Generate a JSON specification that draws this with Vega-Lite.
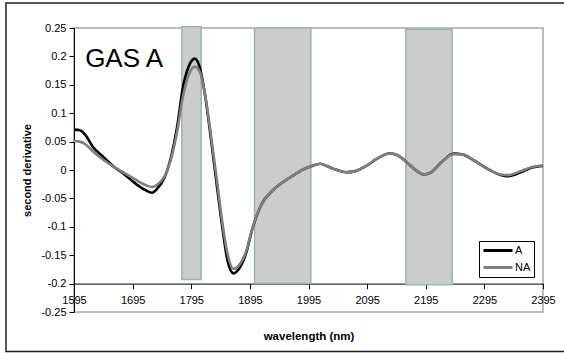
{
  "$schema": "https://vega.github.io/schema/vega-lite/v6.json",
  "width": 469,
  "height": 284,
  "autosize": {"type": "none"},
  "padding": {"left": 74, "top": 28, "right": 21, "bottom": 41},
  "background": "white",
  "config": {
    "view": {"stroke": "#a8a8a8", "strokeWidth": 1.5},
    "font": "Liberation Sans",
    "axis": {
      "grid": false,
      "domainColor": "#000000", "domainWidth": 1,
      "tickColor": "#000000", "tickSize": 5,
      "labelFont": "Liberation Sans", "labelFontSize": 11, "labelColor": "#000000",
      "labelOverlap": false, "labelFlush": false,
      "titleFont": "Liberation Sans", "titleFontWeight": "bold", "titleColor": "#000000"
    },
    "axisX": {"labelPadding": 6, "titlePadding": 25, "titleFontSize": 11.5},
    "axisY": {"labelPadding": 3, "titlePadding": 8, "titleFontSize": 11}
  },
  "datasets": {
    "bands": [
      {"start": 1779, "end": 1812, "top": 0.252, "bottom": -0.193},
      {"start": 1903, "end": 1999, "top": 0.25, "bottom": -0.2},
      {"start": 2161, "end": 2240, "top": 0.248, "bottom": -0.202}
    ],
    "spectra": [
      {"w": 1595, "v": 0.071, "s": "A"}, {"w": 1605, "v": 0.070, "s": "A"}, {"w": 1615, "v": 0.061, "s": "A"},
      {"w": 1627, "v": 0.041, "s": "A"}, {"w": 1645, "v": 0.023, "s": "A"}, {"w": 1664, "v": 0.005, "s": "A"},
      {"w": 1679, "v": -0.006, "s": "A"}, {"w": 1700, "v": -0.024, "s": "A"}, {"w": 1716, "v": -0.035, "s": "A"},
      {"w": 1728, "v": -0.040, "s": "A"}, {"w": 1737, "v": -0.033, "s": "A"}, {"w": 1750, "v": -0.012, "s": "A"},
      {"w": 1762, "v": 0.029, "s": "A"}, {"w": 1771, "v": 0.076, "s": "A"}, {"w": 1780, "v": 0.141, "s": "A"},
      {"w": 1791, "v": 0.183, "s": "A"}, {"w": 1801, "v": 0.196, "s": "A"}, {"w": 1810, "v": 0.179, "s": "A"},
      {"w": 1819, "v": 0.129, "s": "A"}, {"w": 1829, "v": 0.052, "s": "A"}, {"w": 1839, "v": -0.030, "s": "A"},
      {"w": 1848, "v": -0.101, "s": "A"}, {"w": 1857, "v": -0.160, "s": "A"}, {"w": 1867, "v": -0.182, "s": "A"},
      {"w": 1877, "v": -0.173, "s": "A"}, {"w": 1888, "v": -0.148, "s": "A"}, {"w": 1900, "v": -0.101, "s": "A"},
      {"w": 1915, "v": -0.060, "s": "A"}, {"w": 1934, "v": -0.036, "s": "A"}, {"w": 1952, "v": -0.021, "s": "A"},
      {"w": 1970, "v": -0.009, "s": "A"}, {"w": 1986, "v": 0.001, "s": "A"}, {"w": 2001, "v": 0.007, "s": "A"},
      {"w": 2015, "v": 0.011, "s": "A"}, {"w": 2026, "v": 0.007, "s": "A"}, {"w": 2041, "v": 0.001, "s": "A"},
      {"w": 2059, "v": -0.004, "s": "A"}, {"w": 2075, "v": -0.002, "s": "A"}, {"w": 2093, "v": 0.007, "s": "A"},
      {"w": 2112, "v": 0.020, "s": "A"}, {"w": 2133, "v": 0.029, "s": "A"}, {"w": 2145, "v": 0.027, "s": "A"},
      {"w": 2161, "v": 0.015, "s": "A"}, {"w": 2179, "v": -0.001, "s": "A"}, {"w": 2191, "v": -0.008, "s": "A"},
      {"w": 2204, "v": -0.004, "s": "A"}, {"w": 2222, "v": 0.014, "s": "A"}, {"w": 2243, "v": 0.029, "s": "A"},
      {"w": 2259, "v": 0.027, "s": "A"}, {"w": 2280, "v": 0.015, "s": "A"}, {"w": 2302, "v": 0.001, "s": "A"},
      {"w": 2323, "v": -0.009, "s": "A"}, {"w": 2335, "v": -0.011, "s": "A"}, {"w": 2357, "v": -0.004, "s": "A"},
      {"w": 2375, "v": 0.004, "s": "A"}, {"w": 2395, "v": 0.007, "s": "A"},
      {"w": 1595, "v": 0.051, "s": "NA"}, {"w": 1605, "v": 0.050, "s": "NA"}, {"w": 1615, "v": 0.045, "s": "NA"},
      {"w": 1627, "v": 0.033, "s": "NA"}, {"w": 1645, "v": 0.018, "s": "NA"}, {"w": 1664, "v": 0.005, "s": "NA"},
      {"w": 1679, "v": -0.004, "s": "NA"}, {"w": 1700, "v": -0.017, "s": "NA"}, {"w": 1716, "v": -0.026, "s": "NA"},
      {"w": 1728, "v": -0.030, "s": "NA"}, {"w": 1737, "v": -0.026, "s": "NA"}, {"w": 1750, "v": -0.010, "s": "NA"},
      {"w": 1762, "v": 0.025, "s": "NA"}, {"w": 1771, "v": 0.068, "s": "NA"}, {"w": 1780, "v": 0.125, "s": "NA"},
      {"w": 1791, "v": 0.168, "s": "NA"}, {"w": 1801, "v": 0.182, "s": "NA"}, {"w": 1810, "v": 0.172, "s": "NA"},
      {"w": 1819, "v": 0.130, "s": "NA"}, {"w": 1829, "v": 0.058, "s": "NA"}, {"w": 1839, "v": -0.020, "s": "NA"},
      {"w": 1848, "v": -0.092, "s": "NA"}, {"w": 1857, "v": -0.148, "s": "NA"}, {"w": 1867, "v": -0.174, "s": "NA"},
      {"w": 1877, "v": -0.167, "s": "NA"}, {"w": 1888, "v": -0.145, "s": "NA"}, {"w": 1900, "v": -0.100, "s": "NA"},
      {"w": 1915, "v": -0.060, "s": "NA"}, {"w": 1934, "v": -0.036, "s": "NA"}, {"w": 1952, "v": -0.021, "s": "NA"},
      {"w": 1970, "v": -0.009, "s": "NA"}, {"w": 1986, "v": 0.001, "s": "NA"}, {"w": 2001, "v": 0.007, "s": "NA"},
      {"w": 2015, "v": 0.011, "s": "NA"}, {"w": 2026, "v": 0.007, "s": "NA"}, {"w": 2041, "v": 0.001, "s": "NA"},
      {"w": 2059, "v": -0.004, "s": "NA"}, {"w": 2075, "v": -0.002, "s": "NA"}, {"w": 2093, "v": 0.007, "s": "NA"},
      {"w": 2112, "v": 0.020, "s": "NA"}, {"w": 2133, "v": 0.029, "s": "NA"}, {"w": 2145, "v": 0.027, "s": "NA"},
      {"w": 2161, "v": 0.015, "s": "NA"}, {"w": 2179, "v": -0.001, "s": "NA"}, {"w": 2191, "v": -0.008, "s": "NA"},
      {"w": 2204, "v": -0.004, "s": "NA"}, {"w": 2222, "v": 0.014, "s": "NA"}, {"w": 2243, "v": 0.028, "s": "NA"},
      {"w": 2259, "v": 0.027, "s": "NA"}, {"w": 2280, "v": 0.015, "s": "NA"}, {"w": 2302, "v": 0.001, "s": "NA"},
      {"w": 2323, "v": -0.008, "s": "NA"}, {"w": 2335, "v": -0.009, "s": "NA"}, {"w": 2357, "v": -0.002, "s": "NA"},
      {"w": 2375, "v": 0.005, "s": "NA"}, {"w": 2395, "v": 0.008, "s": "NA"}
    ]
  },
  "layer": [
    {
      "data": {"values": [{}]},
      "mark": {"type": "rect", "fill": null, "fillOpacity": 0, "stroke": "#222222", "strokeWidth": 1.5, "clip": false},
      "encoding": {
        "x": {"datum": 1479, "type": "quantitative", "scale": {"domain": [1595, 2395], "nice": false, "zero": false}},
        "x2": {"datum": 2436},
        "y": {"datum": 0.2938, "type": "quantitative", "scale": {"domain": [-0.25, 0.25], "nice": false, "zero": false}},
        "y2": {"datum": -0.3195}
      }
    },
    {
      "data": {"name": "bands"},
      "mark": {"type": "rect", "fill": "#cccccc", "stroke": "#9db3b3", "strokeWidth": 1.5},
      "encoding": {
        "x": {"field": "start", "type": "quantitative", "scale": {"domain": [1595, 2395], "nice": false, "zero": false}},
        "x2": {"field": "end"},
        "y": {"field": "top", "type": "quantitative", "scale": {"domain": [-0.25, 0.25], "nice": false, "zero": false}},
        "y2": {"field": "bottom"}
      }
    },
    {
      "data": {"name": "spectra"},
      "mark": {"type": "line", "strokeWidth": 2.6, "interpolate": "monotone"},
      "encoding": {
        "x": {
          "field": "w", "type": "quantitative",
          "scale": {"domain": [1595, 2395], "nice": false, "zero": false},
          "axis": {
            "title": "wavelength (nm)",
            "values": [1595, 1695, 1795, 1895, 1995, 2095, 2195, 2295, 2395],
            "format": "d",
            "offset": -28.4
          }
        },
        "y": {
          "field": "v", "type": "quantitative",
          "scale": {"domain": [-0.25, 0.25], "nice": false, "zero": false},
          "axis": {
            "title": "second derivative",
            "values": [-0.25, -0.2, -0.15, -0.1, -0.05, 0, 0.05, 0.1, 0.15, 0.2, 0.25],
            "format": ".2~f",
            "labelExpr": "replace(datum.label, '\u2212', '-')",
            "labelOverlap": false,
            "tickCount": 11
          }
        },
        "color": {
          "field": "s", "type": "nominal",
          "scale": {"domain": ["A", "NA"], "range": ["#000000", "#808080"]},
          "legend": {
            "title": null,
            "orient": "none",
            "legendX": 405,
            "legendY": 213,
            "strokeColor": "#000000",
            "fillColor": "#ffffff",
            "padding": 3,
            "symbolType": "stroke",
            "symbolSize": 841,
            "symbolStrokeWidth": 3,
            "clipHeight": 13,
            "rowPadding": 4,
            "labelOffset": 1,
            "labelFont": "Liberation Sans",
            "labelFontSize": 11,
            "labelColor": "#000000"
          }
        }
      }
    },
    {
      "data": {"values": [{"label": "GAS A"}]},
      "mark": {"type": "text", "align": "left", "baseline": "alphabetic", "fontSize": 26, "font": "Liberation Sans", "color": "#000000"},
      "encoding": {
        "x": {"datum": 1614, "type": "quantitative", "scale": {"domain": [1595, 2395], "nice": false, "zero": false}},
        "y": {"datum": 0.181, "type": "quantitative", "scale": {"domain": [-0.25, 0.25], "nice": false, "zero": false}},
        "text": {"field": "label"}
      }
    }
  ]
}
